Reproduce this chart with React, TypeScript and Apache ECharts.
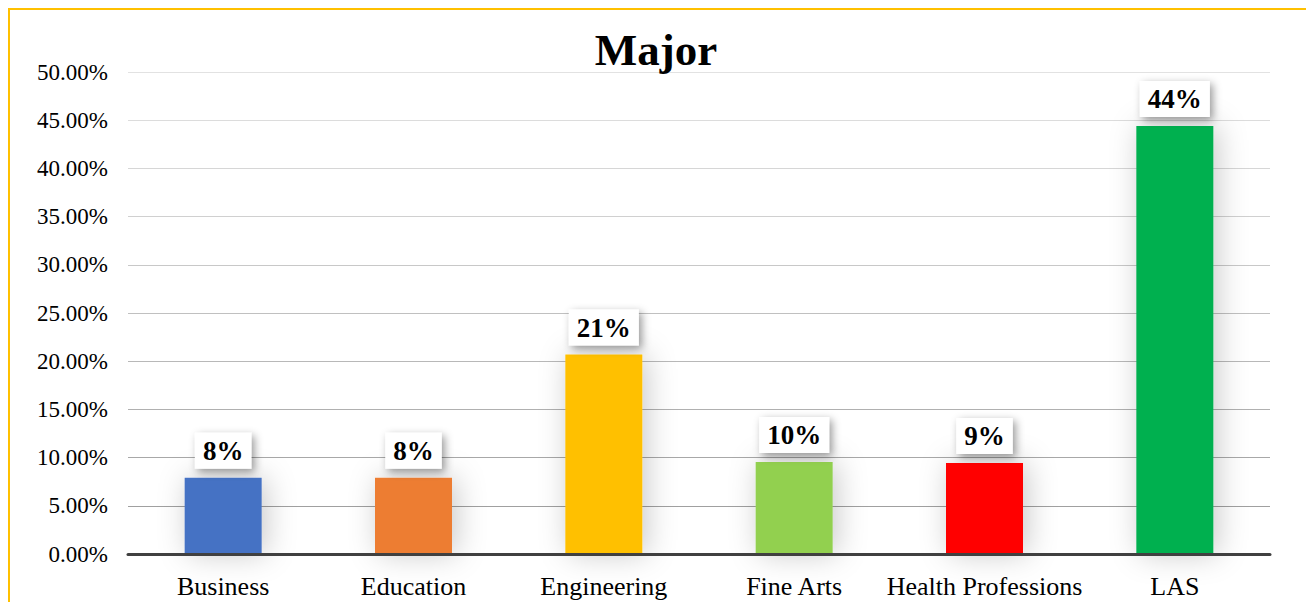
import React, { useEffect, useRef } from "react";
import * as echarts from "echarts";

const categories = ["Business", "Education", "Engineering", "Fine Arts", "Health Professions", "LAS"];
const values = [7.9, 7.9, 20.7, 9.55, 9.45, 44.4];
const barColors = ["#4472C4", "#ED7D31", "#FFC000", "#92D050", "#FF0000", "#00B050"];
const gridLineColors = ["#999999", "#a0a0a0", "#a8a8a8", "#b0b0b0", "#b8b8b8", "#c0c0c0", "#c8c8c8", "#d0d0d0", "#d6d6d6", "#dcdcdc", "#e2e2e2"];
const titleText = "Major";

const FONT = "Liberation Serif";

export default function App() {
  const ref = useRef<HTMLDivElement>(null);
  useEffect(() => {
    document.body.style.overflow = "hidden";
    const chart = echarts.init(ref.current!, null, { renderer: "svg" });
    chart.setOption({
      animation: false,
      title: {
        text: titleText,
        left: "center",
        top: 12,
        textStyle: { fontFamily: FONT, fontSize: 45, fontWeight: "bold", color: "#000" },
      },
      grid: { left: 118, right: 32, top: 62, height: 482, containLabel: false },
      xAxis: {
        type: "category",
        data: categories,
        axisTick: { show: false },
        axisLine: { show: true, lineStyle: { color: "#404040", width: 3 } },
        axisLabel: { fontFamily: FONT, fontSize: 26, color: "#000", margin: 19, interval: 0 },
        z: 5,
      },
      yAxis: {
        type: "value",
        min: 0,
        max: 50,
        interval: 5,
        axisLine: { show: false },
        axisTick: { show: false },
        axisLabel: {
          fontFamily: FONT,
          fontSize: 23,
          color: "#000",
          margin: 20,
          formatter: (v: number) => v.toFixed(2) + "%",
        },
        splitLine: { show: true, lineStyle: { color: gridLineColors, width: 1 } },
      },
      series: [
        {
          type: "bar",
          barWidth: 77,
          data: values.map((v, i) => ({
            value: v,
            itemStyle: {
              color: barColors[i],
              shadowBlur: 30,
              shadowColor: "rgba(0,0,0,0.22)",
              shadowOffsetX: 4,
              shadowOffsetY: 0,
            },
          })),
          label: {
            show: true,
            position: "top",
            distance: 9,
            formatter: (p: any) => Math.round(p.value) + "%",
            fontFamily: FONT,
            fontSize: 27,
            fontWeight: "bold",
            color: "#000",
            backgroundColor: "#ffffff",
            padding: [5, 8, 4, 8],
            shadowBlur: 8,
            shadowColor: "rgba(0,0,0,0.4)",
            shadowOffsetX: 3,
            shadowOffsetY: 3,
          },
        },
      ],
    });
    return () => chart.dispose();
  }, []);
  return (
    <div style={{ width: 1400, height: 640, borderTop: "2px solid #FFC000", borderLeft: "2px solid #FFC000", boxSizing: "border-box" }}>
      <div ref={ref} style={{ width: 1292, height: 620 }} />
    </div>
  );
}
